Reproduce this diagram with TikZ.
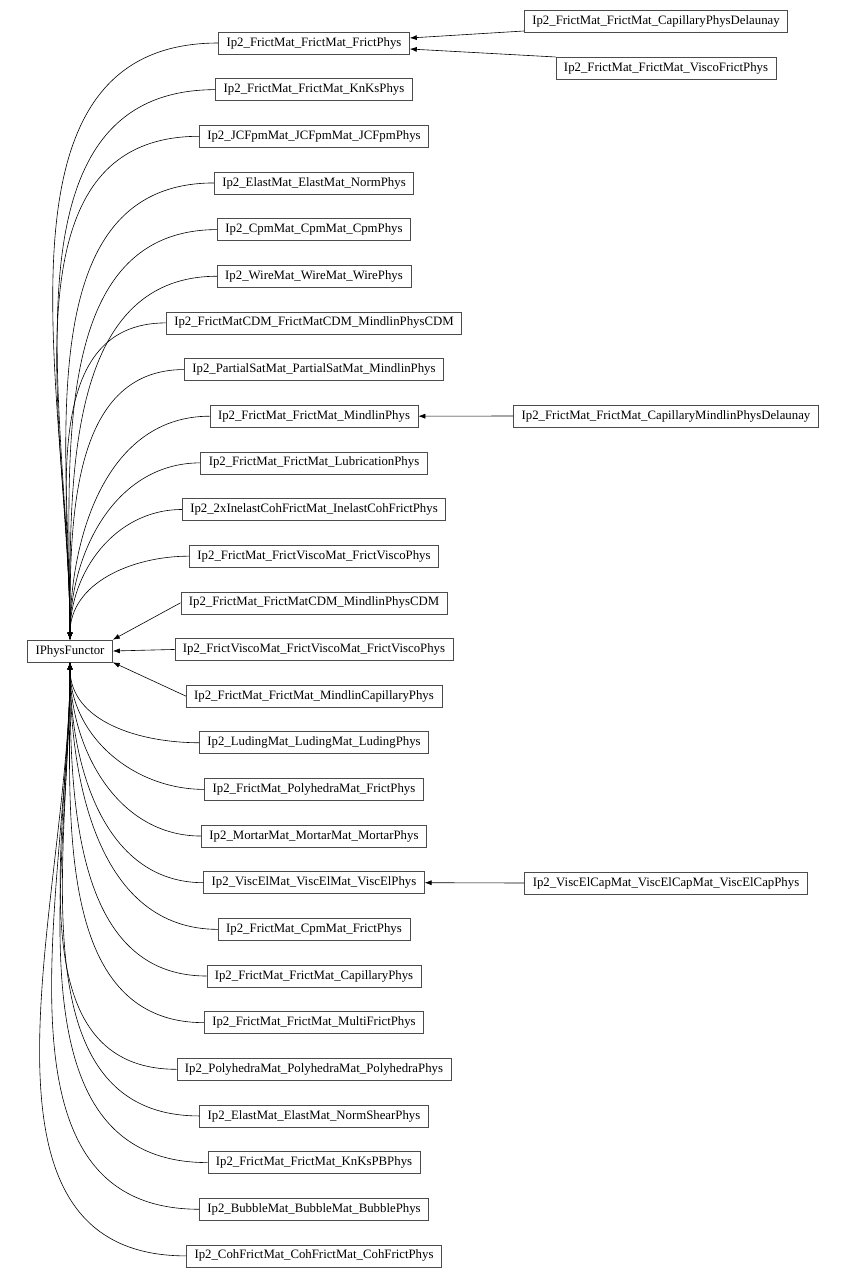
\documentclass[tikz,border=0pt]{standalone}
\usepackage{fontspec}
\setmainfont{Liberation Serif}
\usetikzlibrary{arrows.meta,calc}
\begin{document}
\begin{tikzpicture}[x=1pt,y=-1pt,
  box/.style={draw=black!70,line width=0.6pt,minimum height=22pt,inner xsep=8pt,inner ysep=0pt,font=\fontsize{12.8}{14}\selectfont,fill=white},
  arr/.style={-{Latex[length=7pt,width=5pt]},line width=0.6pt}]
\useasboundingbox (0,0) rectangle (846,1279);
\node[box] (ip) at (70,651) {IPhysFunctor};
\def\cx{314}
\foreach \i/\t in {0/Ip2\_FrictMat\_FrictMat\_FrictPhys,
1/Ip2\_FrictMat\_FrictMat\_KnKsPhys,
2/Ip2\_JCFpmMat\_JCFpmMat\_JCFpmPhys,
3/Ip2\_ElastMat\_ElastMat\_NormPhys,
4/Ip2\_CpmMat\_CpmMat\_CpmPhys,
5/Ip2\_WireMat\_WireMat\_WirePhys,
6/Ip2\_FrictMatCDM\_FrictMatCDM\_MindlinPhysCDM,
7/Ip2\_PartialSatMat\_PartialSatMat\_MindlinPhys,
8/Ip2\_FrictMat\_FrictMat\_MindlinPhys,
9/Ip2\_FrictMat\_FrictMat\_LubricationPhys,
10/Ip2\_2xInelastCohFrictMat\_InelastCohFrictPhys,
11/Ip2\_FrictMat\_FrictViscoMat\_FrictViscoPhys,
12/Ip2\_FrictMat\_FrictMatCDM\_MindlinPhysCDM,
13/Ip2\_FrictViscoMat\_FrictViscoMat\_FrictViscoPhys,
14/Ip2\_FrictMat\_FrictMat\_MindlinCapillaryPhys,
15/Ip2\_LudingMat\_LudingMat\_LudingPhys,
16/Ip2\_FrictMat\_PolyhedraMat\_FrictPhys,
17/Ip2\_MortarMat\_MortarMat\_MortarPhys,
18/Ip2\_ViscElMat\_ViscElMat\_ViscElPhys,
19/Ip2\_FrictMat\_CpmMat\_FrictPhys,
20/Ip2\_FrictMat\_FrictMat\_CapillaryPhys,
21/Ip2\_FrictMat\_FrictMat\_MultiFrictPhys,
22/Ip2\_PolyhedraMat\_PolyhedraMat\_PolyhedraPhys,
23/Ip2\_ElastMat\_ElastMat\_NormShearPhys,
24/Ip2\_FrictMat\_FrictMat\_KnKsPBPhys,
25/Ip2\_BubbleMat\_BubbleMat\_BubblePhys,
26/Ip2\_CohFrictMat\_CohFrictMat\_CohFrictPhys}{
  \node[box] (m\i) at (\cx,{43+46.65*\i}) {\t};
}
\foreach \i in {0,...,11}{\draw[arr] (m\i.west) to[out=180,in=90] (ip.north);}
\draw[arr] (m12.west) -- (ip.north east);
\draw[arr] (m13.west) -- (ip.east);
\draw[arr] (m14.west) -- (ip.south east);
\foreach \i in {15,...,26}{\draw[arr] (m\i.west) to[out=180,in=-90] (ip.south);}
\node[box] (r1) at (656,21) {Ip2\_FrictMat\_FrictMat\_CapillaryPhysDelaunay};
\node[box] (r2) at (666,68) {Ip2\_FrictMat\_FrictMat\_ViscoFrictPhys};
\node[box] (r3) at (666,416) {Ip2\_FrictMat\_FrictMat\_CapillaryMindlinPhysDelaunay};
\node[box] (r4) at (666,883) {Ip2\_ViscElCapMat\_ViscElCapMat\_ViscElCapPhys};
\draw[arr] ($(r1.west)+(0,10)$) -- ($(m0.east)+(0,-5)$);
\draw[arr] ($(r2.west)+(0,-11)$) -- ($(m0.east)+(0,6)$);
\draw[arr] (r3.west) -- (m8.east);
\draw[arr] (r4.west) -- (m18.east);
\end{tikzpicture}
\end{document}
